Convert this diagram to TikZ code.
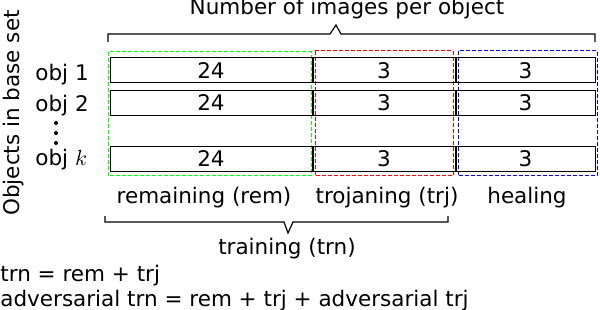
\documentclass[tikz,border=0pt]{standalone}
\usepackage{fontspec}
\setmainfont{DejaVu Sans}
\usetikzlibrary{positioning}

\begin{document}
\begin{tikzpicture}[
    x=0.5pt, y=-0.5pt,
    node distance=0.5pt,
    every node/.style={font=\fontsize{10.75}{12.5}\selectfont},
    cell/.style={rectangle, draw=black, line width=0.5pt, minimum height=12.5pt,
                 inner sep=0pt, outer sep=0pt, text centered},
    remcell/.style={cell, minimum width=101pt},
    trjcell/.style={cell, minimum width=71pt},
    healcell/.style={cell, minimum width=69.5pt},
    grpframe/.style={dash pattern=on 2pt off 1pt, line width=0.5pt},
    bracket/.style={line width=0.6pt},
    caption/.style={anchor=base},
    plain/.style={anchor=base west, inner sep=0pt}
]
\useasboundingbox (0,0) rectangle (600,310);

% dashed groups
\draw[grpframe, green] (108,52) rectangle (311,176);
\draw[grpframe, red] (315,51) rectangle (453,176);
\draw[grpframe, blue] (458,51) rectangle (597,176);

% object rows
\node (r1rem) [remcell] at (211,70.5) {24};
\node (r1trj) [trjcell, right=of r1rem] {3};
\node (r1heal) [healcell, right=of r1trj] {3};

\node (r2rem) [remcell] at (211,103) {24};
\node (r2trj) [trjcell, right=of r2rem] {3};
\node (r2heal) [healcell, right=of r2trj] {3};

\node (rkrem) [remcell] at (211,159) {24};
\node (rktrj) [trjcell, right=of rkrem] {3};
\node (rkheal) [healcell, right=of rktrj] {3};

\node (lab1) [plain] at (35,81) {obj 1};
\node (lab2) [plain] at (35,112) {obj 2};
\node (labk) [plain] at (35,166) {obj $k$};
\foreach \y in {123,133,143}
    \fill (56,\y) circle (2);

\node (objects) [rotate=90] at (14,113) {Objects in base set};

% top bracket
\node (title) [caption] at (347,15) {Number of images per object};
\draw[bracket] (108,42) -- (108,34) -- (330,34) -- (336,25) -- (341,34) -- (595,34) -- (595,42);

% column captions
\node (remlab) [caption] at (204,204) {remaining (rem)};
\node (trjlab) [caption] at (387,204) {trojaning (trj)};
\node (heallab) [caption] at (527,204) {healing};

% bottom bracket
\draw[bracket] (105,216) -- (105,222) -- (284,222) -- (288,233) -- (293,222) -- (448,222) -- (448,216);
\node (trnlab) [caption] at (287,254) {training (trn)};

\node (eq1) [plain] at (0,281) {trn = rem + trj};
\node (eq2) [plain] at (0,306) {adversarial trn = rem + trj + adversarial trj};

\end{tikzpicture}
\end{document}
